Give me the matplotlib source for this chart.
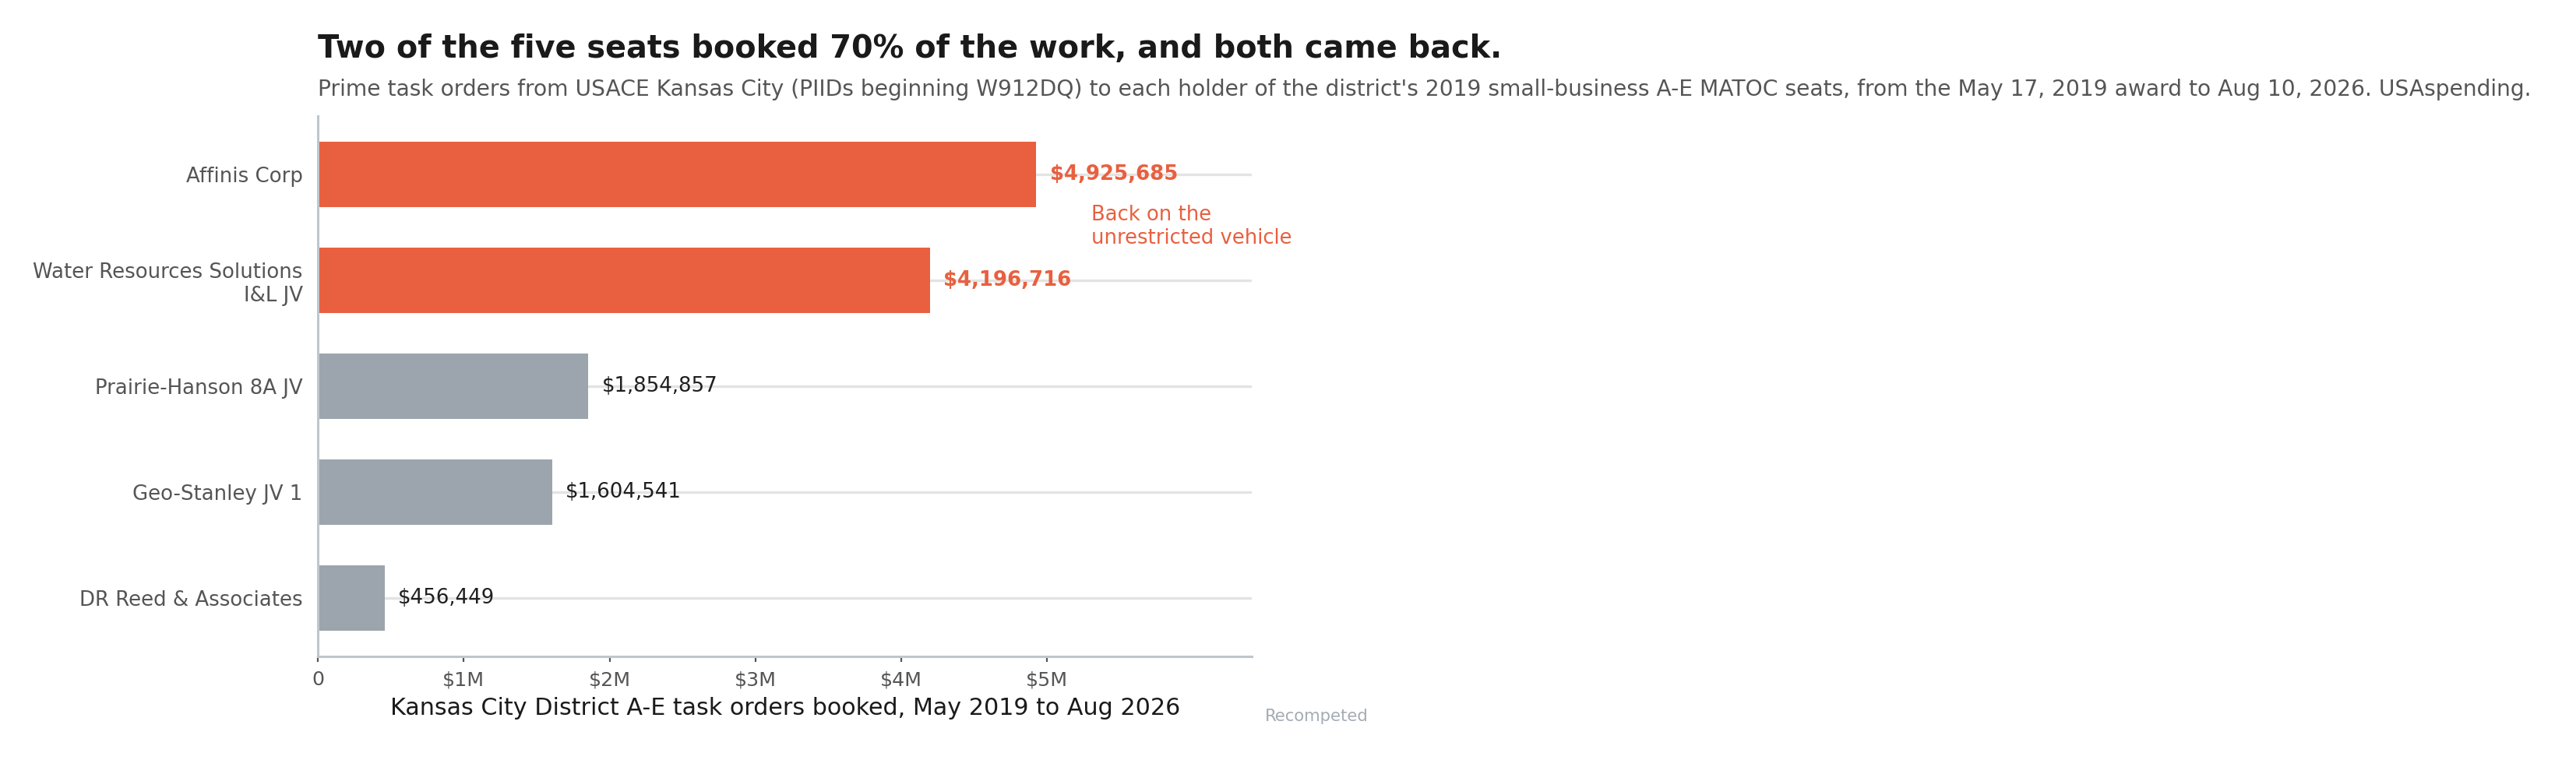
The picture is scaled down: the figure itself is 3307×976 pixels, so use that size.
"""Barras horizontales: ordenes de trabajo A-E por titular de asiento MATOC."""

import matplotlib

matplotlib.use("Agg")
import matplotlib.pyplot as plt
from matplotlib.ticker import FuncFormatter

# Datos
holders = [
    "Affinis Corp",
    "Water Resources Solutions\nI&L JV",
    "Prairie-Hanson 8A JV",
    "Geo-Stanley JV 1",
    "DR Reed & Associates",
]
booked = [4925685, 4196716, 1854857, 1604541, 456449]
came_back = [True, True, False, False, False]
x_ticks = [0, 1e6, 2e6, 3e6, 4e6, 5e6]

ORANGE = "#E8603F"
GRAY = "#9CA5AD"
SPINE = "#BFC6CD"

fig = plt.figure(figsize=(3307 / 200, 976 / 200), dpi=200)
ax = fig.add_axes([0.1234, 0.1363, 0.3626, 0.7110])

ypos = list(range(len(holders)))
colors = [ORANGE if c else GRAY for c in came_back]
ax.barh(ypos, booked, height=0.62, color=colors, zorder=2)

for y, v, c in zip(ypos, booked, came_back):
    ax.annotate(
        f"${v:,.0f}", xy=(v, y), xytext=(6.3, 0), textcoords="offset points",
        ha="left", va="center", fontsize=9.35,
        color=ORANGE if c else "#1f1f1f",
        fontweight="bold" if c else "normal", zorder=3,
    )

ax.text(5.30e6, 0.49, "Back on the\nunrestricted vehicle", color=ORANGE,
        fontsize=9.3, ha="left", va="center", linespacing=1.2)

ax.set_xlim(0, max(booked) * 1.3)
ax.set_ylim(len(holders) - 0.45, -0.55)
ax.set_yticks(ypos, labels=holders)
ax.set_xticks(x_ticks)
ax.xaxis.set_major_formatter(
    FuncFormatter(lambda v, _: "0" if v == 0 else f"${v / 1e6:.0f}M"))

ax.grid(axis="y", color="#E3E3E3", linewidth=1.2, zorder=0)
ax.grid(axis="x", visible=False)
for side in ("top", "right"):
    ax.spines[side].set_visible(False)
for side in ("left", "bottom"):
    ax.spines[side].set_color(SPINE)
    ax.spines[side].set_linewidth(1.1)

ax.tick_params(axis="y", length=0, pad=7, labelsize=9.35, labelcolor="#555555")
ax.tick_params(axis="x", length=2.6, width=0.8, color="#555555", pad=4,
               labelsize=9.1, labelcolor="#555555")
ax.set_xlabel("Kansas City District A-E task orders booked, May 2019 to Aug 2026",
              fontsize=10.85, color="#1a1a1a", labelpad=3.5)

fig.text(0.1234, 0.9242, "Two of the five seats booked 70% of the work, and both came back.",
         fontsize=14.3, fontweight="bold", color="#1a1a1a", va="baseline")
fig.text(0.1234, 0.874,
         "Prime task orders from USACE Kansas City (PIIDs beginning W912DQ) to each holder "
         "of the district's 2019 small-business A-E MATOC seats, from the May 17, 2019 "
         "award to Aug 10, 2026. USAspending.",
         fontsize=10.15, color="#555555", va="baseline")
fig.text(0.491, 0.0512, "Recompeted", fontsize=7.6, color="#A3ACB4", va="baseline")

fig.savefig("out.png", dpi=200)
plt.close(fig)
